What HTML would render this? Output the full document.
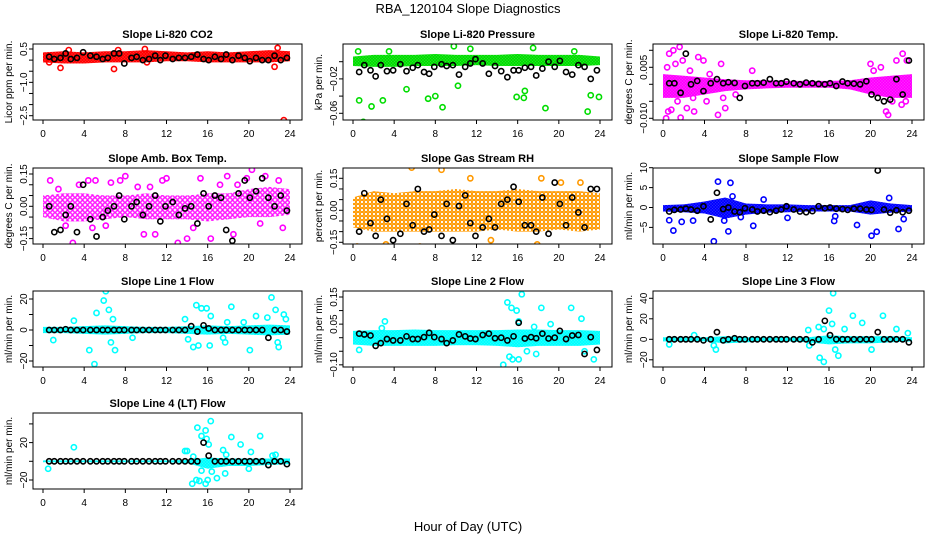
<!DOCTYPE html>
<html><head><meta charset="utf-8"><style>
html,body{margin:0;padding:0;background:#fff}
svg{display:block;font-family:"Liberation Sans",Arial,sans-serif}
</style></head><body>
<svg id="chart" width="936" height="540" viewBox="0 0 936 540">
<text x="468" y="13" text-anchor="middle" font-size="13">RBA_120104  Slope Diagnostics</text>
<text x="468" y="531" text-anchor="middle" font-size="13">Hour of Day (UTC)</text>
</svg>
<script>
const BH=[0.6,1.1,1.7,2.2,2.7,3.3,3.9,4.6,5.2,5.8,6.3,6.9,7.4,7.9,8.6,9.1,9.7,10.3,10.9,11.4,11.9,12.6,13.2,13.8,14.4,15,15.6,16.1,16.7,17.3,17.8,18.4,19,19.6,20.1,20.7,21.3,21.9,22.5,23.1,23.7];
const BANDH=[0,2,4,6,8,10,12,14,16,18,20,22,24];
const XTICKS=[0,4,8,12,16,20,24];

const co2Black=[0.15,0.05,0.1,0.3,0.05,0.1,0.35,0.2,0.15,0.05,0.1,0.3,0.3,-0.15,0.1,0.15,0,0.05,0.2,0,0.2,0.05,0.1,0.1,0.15,0.25,0.05,0,0.15,0.05,0.25,0,0.2,0.1,-0.05,0.1,0,0,0.2,0,0.1];
const co2Hi=[0.35,0.4,0.35,0.4,0.4,0.45,0.4,0.35,0.4,0.35,0.4,0.45,0.4];
const co2Lo=[-0.1,-0.15,-0.15,-0.1,-0.1,-0.1,-0.05,-0.05,-0.1,-0.1,-0.1,-0.1,-0.05];
const co2OutH=[1.7,6.9,22.5,23.4,22.8,2.5,9.9,10.1,0.6,7.3];
const co2OutV=[-0.35,-0.4,-0.3,-2.7,0.55,0.45,0.5,-0.1,-0.1,0.45];

const presBlack=[-0.012,-0.004,-0.01,-0.017,-0.004,-0.011,-0.01,-0.003,-0.011,-0.007,-0.004,-0.012,-0.014,-0.006,-0.003,-0.005,-0.004,-0.015,-0.006,-0.002,0.003,-0.002,-0.014,-0.005,-0.011,-0.018,-0.01,-0.01,-0.007,-0.006,-0.016,-0.008,0,-0.006,0.001,-0.012,-0.015,-0.004,-0.006,-0.02,-0.01];
const presHi=[0.006,0.008,0.008,0.008,0.009,0.008,0.008,0.008,0.009,0.008,0.008,0.008,0.006];
const presLo=[-0.005,-0.006,-0.006,-0.005,-0.005,-0.005,-0.004,-0.005,-0.005,-0.005,-0.005,-0.005,-0.004];
const presOutH=[0.6,1,1.8,2.9,5.2,7.3,8.0,8.7,15.9,16.6,16.7,18.7,22.8,23.1,23.9,10.2,9.8,17.5,11.4,0.5,21.5,3.5];
const presOutV=[-0.045,-0.07,-0.052,-0.045,-0.032,-0.043,-0.04,-0.053,-0.041,-0.042,-0.034,-0.054,-0.058,-0.039,-0.041,-0.028,0.018,0.016,0.015,0.012,0.012,0.012];

const tempBlack=[0.0003,0.0003,-0.0025,0.009,0,0.001,-0.002,0.0003,0.0015,0.0003,0.0006,0.0004,-0.004,-0.0005,0.0003,0.0003,0.0005,0.0015,0.0003,0.0003,0.0008,0.0003,0,0.0005,0.0003,0.0001,0,0.0003,-0.0005,0.0008,0.0003,0.0002,0,0.0009,-0.003,-0.004,-0.005,-0.0045,0.0015,-0.003,0.007];
const tempHi=[0.003,0.0025,0.002,0.0015,0.0012,0.0012,0.001,0.001,0.001,0.0012,0.002,0.0025,0.003];
const tempLo=[-0.004,-0.004,-0.003,-0.002,-0.0015,-0.0012,-0.001,-0.001,-0.001,-0.0015,-0.003,-0.004,-0.004];
const tempOutH=[0.3,0.5,0.6,1,1.6,1.7,1.9,0.8,2.3,3.4,3.9,3,5.3,6,5.6,8.6,20,21.5,21.7,23.1,22.5,23.5,23.4,0.4,1.2,2.6,4.5,5.8,7,20.3,21,22.1,23,1.4,2.9,4.2];
const tempOutV=[-0.01,-0.008,0.009,0.01,0.011,-0.0098,0.007,-0.0075,-0.007,0.008,0.007,-0.008,-0.009,-0.007,0.006,0.004,0.006,-0.008,-0.009,0.009,0.007,0.007,-0.005,0.005,0.006,0.004,0.003,-0.004,-0.003,0.004,0.005,-0.005,-0.006,-0.005,-0.004,-0.005];

const ambBlack=[0.0,-0.12,-0.11,-0.04,0.0,-0.12,0.1,-0.06,-0.14,-0.05,-0.02,0.0,0.05,-0.06,0.0,0.02,-0.04,0.0,0.05,-0.07,0.0,0.02,-0.04,-0.01,0.0,-0.08,0.06,0.0,0.05,0.04,-0.11,-0.16,0.06,0.12,0.04,0.07,0.13,0.04,0.0,0.05,-0.02];
const ambHi=[0.05,0.06,0.06,0.05,0.05,0.06,0.05,0.05,0.06,0.06,0.08,0.09,0.08];
const ambLo=[-0.05,-0.07,-0.07,-0.06,-0.05,-0.06,-0.06,-0.06,-0.07,-0.06,-0.05,-0.05,-0.04];
const ambOutH=[0.7,2.9,4.4,5.1,6.6,7.5,9.8,10.9,13.1,13.3,14.0,15.3,16.3,17.9,18.5,20.3,21.6,22.9,23.3,8.0,12.0,19.8,3.5,1.5,11.6,17.2,2.2,6.1,9.2,14.6,18.9,21.1,4.8,10.4];
const ambOutV=[0.12,-0.17,0.12,0.12,0.11,0.12,-0.13,-0.13,-0.17,-0.2,-0.15,0.13,-0.15,0.14,-0.13,0.17,0.14,0.12,-0.1,0.14,0.13,0.13,0.1,0.08,0.12,0.1,-0.09,-0.09,0.09,-0.1,0.1,-0.08,-0.1,0.09];

const rhBlack=[-0.1,0.08,-0.06,-0.12,0.05,-0.04,-0.14,-0.11,0.03,-0.07,0.1,-0.1,-0.09,-0.02,-0.12,0.03,-0.14,0.02,0.07,-0.06,-0.12,-0.08,-0.04,-0.08,0.03,0.05,0.11,0.04,-0.07,-0.07,-0.1,0.06,-0.11,0.13,0.03,-0.07,0.06,-0.01,-0.08,0.1,0.1];
const rhHi=[0.06,0.09,0.08,0.09,0.09,0.1,0.09,0.09,0.1,0.09,0.09,0.09,0.08];
const rhLo=[-0.08,-0.1,-0.1,-0.1,-0.1,-0.1,-0.1,-0.09,-0.1,-0.1,-0.09,-0.1,-0.09];
const rhOutH=[0.4,5.7,8.6,6.5,17.9,11.4,3.2,13.4,18.3,20.2,22.1];
const rhOutV=[-0.17,0.2,0.19,-0.17,-0.16,0.15,-0.16,-0.14,0.15,0.13,0.13];

const sampBlack=[-1,-0.6,-0.5,-0.3,-0.5,-0.8,0.3,-3,3.7,-0.4,0,-1,-1.2,-0.2,-0.5,-1,-0.8,-1.2,-0.8,-0.5,0.3,-0.5,-1,-1.2,-0.9,0.3,-0.2,0,-0.3,-0.4,-0.6,-0.3,-0.3,-0.5,-0.6,9.3,-0.5,-1.3,-0.7,-1.2,-0.8];
const sampHi=[0.6,0.8,1.5,2.5,1,0.8,0.8,0.6,0.6,0.6,1.8,1,0.6];
const sampLo=[-1,-1.2,-1.5,-2.8,-1.8,-1.3,-1.2,-1,-1,-1,-1.8,-1.3,-1];
const sampOutH=[0.6,1,1.8,2.9,4.9,5.3,6.5,6.7,6.3,5.9,9.7,8.7,12,16.5,16.6,18.7,20.1,20.6,22.7,23.2,21.8,7.5];
const sampOutV=[-3.2,-5.8,-3.6,-3.3,-8.5,6.5,6.2,2.8,-6,-3.3,2,-4.6,-2.6,-3.4,-2.2,-4.4,-7.1,-6.1,-5.4,-2.9,2.4,-2.4];

const l1Black=[0,0,0,0.5,0,0,0,0,0,0,0,0,0,0,0,0,0,0,0,0,0,0,0,0,2.5,-1,3,1,0,0,0,0,0,0,0,0,0,-5,0,0,-1];
const l1Hi=[2,2,2.5,3,2.5,2,2,2.5,3,2.5,3,3.5,3];
const l1Lo=[-2,-2,-2.5,-3,-2.5,-2,-2,-2.5,-3,-2.5,-3,-3.5,-3];
const l1OutH=[1,3,4.5,5,5.2,5.9,6.1,6.4,6.6,7,6.8,8.7,13.8,14.1,14.6,14.9,15.1,15.4,15.9,16.2,16.3,17.5,17.7,18.3,20.1,20.7,21.8,22.2,22.6,22.8,22.9,23.4,23.6,17.9,19.5];
const l1OutV=[-6.5,6,-13,-22,11,19,25,13,-8,-13,7,-5,7,-6,-11,16,-10,14,14,-10,9,-5,-8,15,-13,9,8,21,13,-8,-11,10,7,5,5];

const l2Black=[0.015,0.012,0.008,-0.03,-0.02,-0.005,-0.01,-0.01,0.005,-0.005,-0.005,0.002,0.018,0.002,-0.005,-0.02,-0.01,0.012,0.005,-0.003,-0.005,0.01,0.015,-0.002,0,-0.01,0.005,0.055,-0.003,0.002,-0.002,0.015,-0.003,0,0.025,-0.005,0.008,0.01,-0.06,0.002,-0.045];
const l2Hi=[0.025,0.028,0.028,0.03,0.028,0.028,0.028,0.028,0.03,0.03,0.028,0.028,0.025];
const l2Lo=[-0.025,-0.03,-0.03,-0.03,-0.03,-0.028,-0.028,-0.03,-0.035,-0.03,-0.03,-0.03,-0.025];
const l2OutH=[0.6,2.8,3.1,14.6,15,15.4,15.9,16.4,16.1,15.2,15.5,16.9,17.6,18.3,19.2,21.2,22.2,23.4,22.5,17.8,16.1];
const l2OutV=[-0.045,0.035,0.06,-0.1,0.13,0.11,0.1,0.16,0.06,-0.07,-0.08,-0.05,0.04,0.11,0.05,0.11,0.07,-0.08,-0.05,-0.06,-0.08];

const l3Black=[0,0,0,0,0,0,-1,0,7,-1,0,1,0,0,0,0,0,0,0,0,0,0,0,0,-3,0,18,4,0,0,0,0,0,0,0,7,0,0,0,0,-3];
const l3Hi=[2,2,2,3,2,2,2,2,4,3,3,3,2];
const l3Lo=[-2,-2,-2,-4,-3,-2,-2,-3,-5,-4,-4,-3,-2];
const l3OutH=[0.6,3,5.1,4.9,14,14.1,15,15.5,15.1,15.5,16,16.3,16.4,16.9,17.5,18.3,19.2,20.1,21.2,22.5,23.6,16.6];
const l3OutV=[-5,4,-10,-6,9,-6,12,10,-18,-22,28,15,45,-16,10,23,16,-10,23,10,6,-10];

const l4Black=[0,0,0,0,0,0,0,0,0,0,0,0,0,0,0,0,0,0,0,0,0,0,0,0,0,0,20,6,0,0,0,0,0,0,0,0,0,-4,0,0,-3];
const l4Hi=[1,1,1,1,1,1,1,1.5,4,3,3,3,3];
const l4Lo=[-1,-1,-1,-1,-1,-1,-1,-2,-8,-5,-5,-4,-3];
const l4OutH=[0.5,3,13.8,14,14.5,14.9,15,15.2,15.4,15.8,15.9,16,16.1,16.3,16.4,16.9,17.5,17.8,18.3,17.7,19.2,20.2,20,21.1,22.3,22.6,14.6,15.4,15.8];
const l4OutV=[-8,15,11,11,-24,-20,36,-21,27,33,24,-20,18,43,-11,-18,12,7,26,-13,18,10,-8,27,6,7,5,-10,-24];

const PANELS=[
 {id:'co2',title:'Slope Li-820 CO2',yl:'Licor ppm per min.',col:0,row:0,color:'#ff0000',dens:3,r:[0.5,49,-2.5,115.7],ticks:[0.5,0,-0.5,-1,-1.5,-2,-2.5],labs:['0.5','','','-1.0','','','-2.5'],bk:co2Black,hi:co2Hi,lo:co2Lo,oh:co2OutH,ov:co2OutV},
 {id:'pressure',title:'Slope Li-820 Pressure',yl:'kPa per min.',col:1,row:0,color:'#00dd00',dens:3,r:[0,61.7,-0.06,113.3],ticks:[0,-0.02,-0.04,-0.06],labs:['','-0.02','','-0.06'],bk:presBlack,hi:presHi,lo:presLo,oh:presOutH,ov:presOutV},
 {id:'temp',title:'Slope Li-820 Temp.',yl:'degrees C per min.',col:2,row:0,color:'#ff00ff',dens:3,r:[0,84.3,-0.01,118.3],ticks:[0.01,0.005,0,-0.005,-0.01],labs:['','0.005','','','-0.010'],bk:tempBlack,hi:tempHi,lo:tempLo,oh:tempOutH,ov:tempOutV},
 {id:'amb-box-temp',title:'Slope Amb. Box Temp.',yl:'degrees C per min.',col:0,row:1,color:'#ff00ff',dens:5,r:[0,206.3,0.15,174],ticks:[0.15,0.1,0.05,0,-0.05,-0.1,-0.15],labs:['0.15','','','0.00','','','-0.15'],bk:ambBlack,hi:ambHi,lo:ambLo,oh:ambOutH,ov:ambOutV},
 {id:'rh',title:'Slope Gas Stream RH',yl:'percent per min.',col:1,row:1,color:'#ff9900',dens:4,r:[0,210.3,0.15,178.3],ticks:[0.15,0.1,0.05,0,-0.05,-0.1,-0.15],labs:['0.15','','','0.00','','','-0.15'],bk:rhBlack,hi:rhHi,lo:rhLo,oh:rhOutH,ov:rhOutV},
 {id:'sample-flow',title:'Slope Sample Flow',yl:'ml/min per min.',col:2,row:1,color:'#0000ff',dens:3,r:[0,207.5,10,167.7],ticks:[10,5,0,-5],labs:['10','5','0','-5'],bk:sampBlack,hi:sampHi,lo:sampLo,oh:sampOutH,ov:sampOutV},
 {id:'line1-flow',title:'Slope Line 1 Flow',yl:'ml/min per min.',col:0,row:2,color:'#00ffff',dens:3,r:[0,330,20,299],ticks:[20,10,0,-10,-20],labs:['20','','0','','-20'],bk:l1Black,hi:l1Hi,lo:l1Lo,oh:l1OutH,ov:l1OutV},
 {id:'line2-flow',title:'Slope Line 2 Flow',yl:'ml/min per min.',col:1,row:2,color:'#00ffff',dens:3,r:[0,337.7,0.15,297],ticks:[0.15,0.1,0.05,0,-0.05,-0.1],labs:['0.15','','0.05','','','-0.10'],bk:l2Black,hi:l2Hi,lo:l2Lo,oh:l2OutH,ov:l2OutV},
 {id:'line3-flow',title:'Slope Line 3 Flow',yl:'ml/min per min.',col:2,row:2,color:'#00ffff',dens:3,r:[0,339.3,40,298.3],ticks:[40,20,0,-20],labs:['40','20','0','-20'],bk:l3Black,hi:l3Hi,lo:l3Lo,oh:l3OutH,ov:l3OutV},
 {id:'line4-flow',title:'Slope Line 4 (LT) Flow',yl:'ml/min per min.',col:0,row:3,color:'#00ffff',dens:3,r:[0,461.3,-20,480],ticks:[40,20,0,-20],labs:['','20','','-20'],bk:l4Black,hi:l4Hi,lo:l4Lo,oh:l4OutH,ov:l4OutV}
];
const COLL=[33,343,653], COLW=[269,269,271], ROWT=[44,168,291,413], ROWH=76;
const NS='http://www.w3.org/2000/svg';
const svg=document.getElementById('chart');
const defs=document.createElementNS(NS,'defs');svg.appendChild(defs);
function mk(tag,attrs,parent){const e=document.createElementNS(NS,tag);for(const k in attrs)e.setAttribute(k,attrs[k]);(parent||svg).appendChild(e);return e;}

PANELS.forEach(p=>{
  const L=COLL[p.col],W=COLW[p.col],T=ROWT[p.row],B=T+ROWH;
  const xs=h=>L+10+h*(W-22)/24;
  const ys=v=>p.r[1]+(v-p.r[0])*(p.r[3]-p.r[1])/(p.r[2]-p.r[0]);
  const g=mk('g',{});
  
  
  const cp=mk('clipPath',{id:'cp-'+p.id},defs);mk('rect',{x:L,y:T,width:W,height:ROWH},cp);
  const pat=mk('pattern',{id:'pt-'+p.id,patternUnits:'userSpaceOnUse',width:p.dens,height:p.dens},defs);
  mk('rect',{x:0,y:0,width:p.dens,height:p.dens,fill:p.dens<=3?p.color:'none',opacity:0.55},pat);
  mk('circle',{cx:p.dens/2,cy:p.dens/2,r:p.dens<=3?1:1.8,fill:'none',stroke:p.color,'stroke-width':1.3},pat);
  const t=mk('text',{x:L+W/2,y:T-6,'text-anchor':'middle','font-size':11,'font-weight':'bold'},g);t.textContent=p.title;
  
  
  const yl=mk('text',{x:0,y:0,'text-anchor':'middle','font-size':10,transform:`translate(${L-21},${T+ROWH/2}) rotate(-90)`},g);yl.textContent=p.yl;
  
  
  const pg=mk('g',{'clip-path':`url(#cp-${p.id})`},g);
  let d='';BANDH.forEach((h,i)=>{d+=(i?'L':'M')+xs(h)+','+ys(p.hi[i]);});
  for(let i=BANDH.length-1;i>=0;i--)d+='L'+xs(BANDH[i])+','+ys(p.lo[i]);
  const band=mk('path',{d:d+'Z',fill:`url(#pt-${p.id})`,stroke:'none'},pg);
  
  
  p.oh.forEach((h,i)=>{
    const c=mk('circle',{cx:xs(h),cy:ys(p.ov[i]),r:2.6,fill:'none',stroke:p.color,'stroke-width':1.6},pg);
    
    
  });
  BH.forEach((h,i)=>{
    const c=mk('circle',{cx:xs(h),cy:ys(p.bk[i]),r:2.6,fill:'none',stroke:'#000','stroke-width':1.6},pg);
    
    
  });
  mk('rect',{x:L,y:T,width:W,height:ROWH,fill:'none',stroke:'#000','stroke-width':1},g);
  mk('line',{x1:xs(0),x2:xs(24),y1:B,y2:B,stroke:'#000'},g);
  XTICKS.forEach(h=>{
    mk('line',{x1:xs(h),x2:xs(h),y1:B,y2:B+4,stroke:'#000'},g);
    const tx=mk('text',{x:xs(h),y:B+17,'text-anchor':'middle','font-size':10},g);tx.textContent=h;
    
    
  });
  p.ticks.forEach((v,i)=>{
    const y=ys(v);
    mk('line',{x1:L-4,x2:L,y1:y,y2:y,stroke:'#000'},g);
    if(p.labs[i]){const tx=mk('text',{x:0,y:0,'text-anchor':'middle','font-size':10,transform:`translate(${L-6},${y}) rotate(-90)`},g);tx.textContent=p.labs[i].replace('-','\u2212');
      
      }
  });
});
</script>
</body></html>
